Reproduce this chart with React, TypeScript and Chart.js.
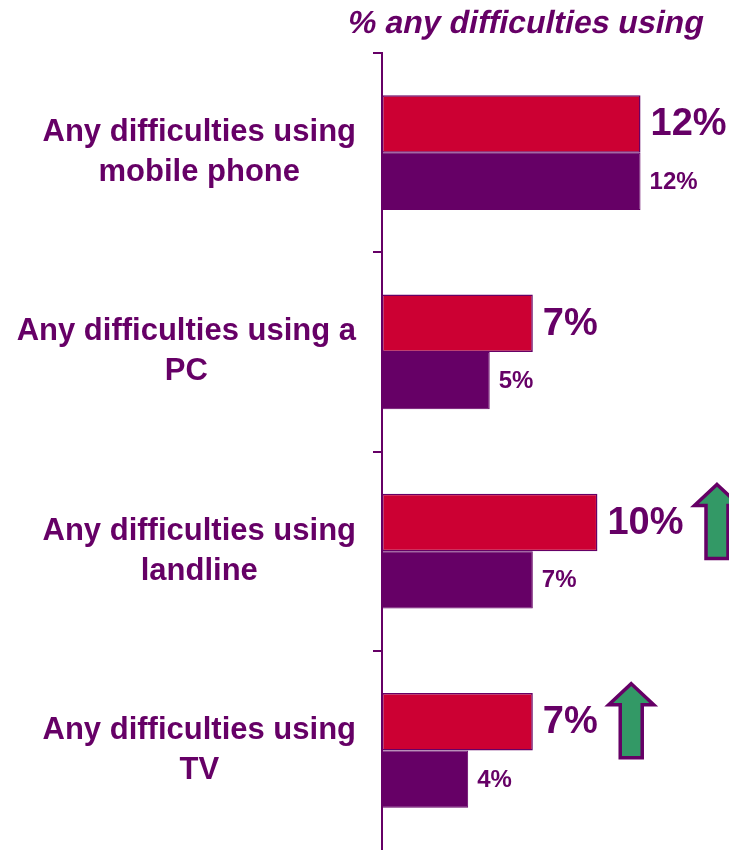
import React, { useEffect, useRef } from "react";
import { Chart, registerables } from "chart.js";

Chart.register(...registerables);

const titleText = "% any difficulties using";
const categories: string[][] = [
  ["Any difficulties using", "mobile phone"],
  ["Any difficulties using a", "PC"],
  ["Any difficulties using", "landline"],
  ["Any difficulties using", "TV"],
];
const seriesRed = [12, 7, 10, 7];
const seriesPurple = [12, 5, 7, 4];
const increaseFlags = [false, false, true, true];

const RED = "#CC0033";
const PURPLE = "#660066";
const GREEN = "#339966";
const FONT = '"Liberation Sans", Arial, sans-serif';

const overlayPlugin = {
  id: "overlay",
  afterDatasetsDraw(chart: any) {
    const ctx = chart.ctx;
    const yScale = chart.scales.y;
    const area = chart.chartArea;
    ctx.save();
    // title (bold, synthetic italic via skew)
    ctx.font = `bold 32px ${FONT}`;
    ctx.fillStyle = PURPLE;
    ctx.textBaseline = "middle";
    ctx.textAlign = "center";
    const tcx = area.left + 144;
    const tcy = area.top - 29;
    ctx.save();
    ctx.translate(tcx, tcy);
    ctx.transform(1, 0, -0.21, 1, 0, 0);
    ctx.fillText(titleText, 0, 0);
    ctx.restore();

    // category labels: block right-aligned, lines centered within block
    ctx.font = `bold 31px ${FONT}`;
    ctx.fillStyle = PURPLE;
    ctx.textBaseline = "middle";
    ctx.textAlign = "center";
    const rightEdge = area.left - 26;
    categories.forEach((lines, i) => {
      const y = yScale.getPixelForValue(i);
      const w = Math.max(...lines.map((l) => ctx.measureText(l).width));
      const cx = rightEdge - w / 2;
      const lh = 40;
      const y0 = y - ((lines.length - 1) * lh) / 2;
      lines.forEach((l, j) => ctx.fillText(l, cx, y0 + j * lh));
    });
    // value labels
    ctx.textAlign = "left";
    const metaRed = chart.getDatasetMeta(0);
    const metaPurple = chart.getDatasetMeta(1);
    metaRed.data.forEach((bar: any, i: number) => {
      ctx.font = `bold 38px ${FONT}`;
      ctx.fillStyle = PURPLE;
      const label = seriesRed[i] + "%";
      const lx = bar.x + 10;
      ctx.fillText(label, lx, bar.y + 1);
      if (increaseFlags[i]) {
        const tw = ctx.measureText(label).width;
        const ax = lx + tw + 11;
        const aw = 45;
        const ah = 74;
        const hh = 21;
        const sw = 22;
        const top = bar.y - ah / 2 - 1;
        const cx = ax + aw / 2;
        ctx.beginPath();
        ctx.moveTo(cx, top);
        ctx.lineTo(ax + aw, top + hh);
        ctx.lineTo(cx + sw / 2, top + hh);
        ctx.lineTo(cx + sw / 2, top + ah);
        ctx.lineTo(cx - sw / 2, top + ah);
        ctx.lineTo(cx - sw / 2, top + hh);
        ctx.lineTo(ax, top + hh);
        ctx.closePath();
        ctx.fillStyle = GREEN;
        ctx.fill();
        ctx.lineWidth = 3.5;
        ctx.lineJoin = "miter";
        ctx.strokeStyle = PURPLE;
        ctx.stroke();
      }
    });
    metaPurple.data.forEach((bar: any, i: number) => {
      ctx.font = `bold 24px ${FONT}`;
      ctx.fillStyle = PURPLE;
      ctx.fillText(seriesPurple[i] + "%", bar.x + 9, bar.y + 1);
    });
    ctx.restore();
  },
};

export default function App() {
  const ref = useRef<HTMLCanvasElement | null>(null);
  useEffect(() => {
    document.body.style.margin = "0";
    if (!ref.current) return;
    const chart = new Chart(ref.current, {
      type: "bar",
      data: {
        labels: categories.map((c) => c.join(" ")),
        datasets: [
          {
            data: seriesRed,
            backgroundColor: RED,
            borderColor: PURPLE,
            borderWidth: 1.5,
            borderSkipped: false,
            categoryPercentage: 0.575,
            barPercentage: 1,
          },
          {
            data: seriesPurple,
            backgroundColor: PURPLE,
            borderColor: PURPLE,
            borderWidth: 1,
            borderSkipped: false,
            categoryPercentage: 0.575,
            barPercentage: 1,
          },
        ],
      },
      options: {
        indexAxis: "y",
        animation: false,
        responsive: false,
        layout: { padding: { left: 373, right: 54, top: 53, bottom: 0 } },
        plugins: {
          legend: { display: false },
          tooltip: { enabled: false },
          title: { display: false },
        },
        scales: {
          x: { display: false, min: 0, max: 13.6 },
          y: {
            offset: true,
            ticks: { display: false },
            grid: {
              offset: true,
              drawOnChartArea: false,
              drawTicks: true,
              tickLength: 9,
              color: (c: any) => (c.type === "tick" ? PURPLE : "rgba(0,0,0,0)"),
              lineWidth: 2,
            },
            border: { display: true, color: PURPLE, width: 2 },
          },
        },
      },
      plugins: [overlayPlugin],
    } as any);
    return () => chart.destroy();
  }, []);
  return <canvas ref={ref} width={729} height={850} style={{ display: "block" }} />;
}
